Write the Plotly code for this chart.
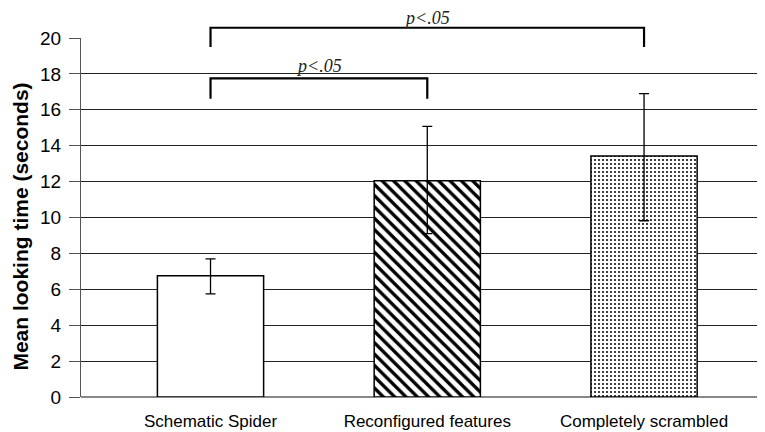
import plotly.graph_objects as go

categories = ["Schematic Spider", "Reconfigured features", "Completely scrambled"]
means = [6.75, 12.05, 13.43]
err_plus = [0.95, 3.03, 3.47]
err_minus = [1.0, 2.95, 3.61]
y_ticks = [0, 2, 4, 6, 8, 10, 12, 14, 16, 18, 20]

# significance brackets: (left index, right index, bar height, leg bottom, label height, label)
brackets = [
    (0, 2, 20.57, 19.5, 21.12, "p<.05"),
    (0, 1, 17.75, 16.62, 18.45, "p<.05"),
]

patterns = [
    dict(shape=""),
    dict(shape="\\", size=8, solidity=0.42, fgcolor="black", bgcolor="white", fillmode="replace"),
    dict(shape=".", size=4, solidity=0.2, fgcolor="black", bgcolor="white", fillmode="replace"),
]

fig = go.Figure()
for i, (c, m) in enumerate(zip(categories, means)):
    fig.add_trace(go.Bar(
        x=[i], y=[m], width=0.49,
        marker=dict(color="white", line=dict(color="black", width=1.5), pattern=patterns[i]),
        error_y=dict(type="data", symmetric=False, array=[err_plus[i]], arrayminus=[err_minus[i]],
                     color="black", thickness=1.3, width=5),
        showlegend=False,
    ))

YMAX = 20.0
for (a, b, top, leg, ly, txt) in brackets:
    fig.add_shape(type="path",
                  path=f"M {a},{leg/YMAX} L {a},{top/YMAX} L {b},{top/YMAX} L {b},{leg/YMAX}",
                  xref="x", yref="paper", line=dict(color="black", width=2.2))
    fig.add_annotation(x=(a + b) / 2, y=ly / YMAX, xref="x", yref="paper", text=f"<i>{txt}</i>",
                       showarrow=False, borderpad=0,
                       font=dict(family="Liberation Serif", size=18, color="#222"),
                       yanchor="middle")

# y-axis title as rotated annotation
fig.add_annotation(x=-0.089, y=0.475, xref="paper", yref="paper",
                   text="<b>Mean looking time (seconds)</b>", textangle=-90, showarrow=False,
                   font=dict(family="Liberation Sans", size=21, color="black"),
                   xanchor="center", yanchor="middle")

fig.update_layout(
    width=757, height=424,
    margin=dict(l=73, r=0, t=30, b=35),
    paper_bgcolor="white", plot_bgcolor="white",
    font=dict(family="Liberation Sans", color="black"),
)
fig.update_xaxes(
    range=[-0.5975, 2.558], tickvals=[0, 1, 2], ticktext=categories,
    showgrid=False, zeroline=False, showline=False, ticks="",
    tickfont=dict(size=17, color="black"), ticklabelstandoff=12, automargin=False,
)
fig.update_yaxes(
    range=[0, YMAX], tickvals=y_ticks, ticktext=[str(t) for t in y_ticks],
    showgrid=True, gridcolor="#222", gridwidth=1,
    zeroline=True, zerolinecolor="#888", zerolinewidth=2,
    showline=True, linecolor="#555", linewidth=1,
    ticks="outside", ticklen=11, tickcolor="#555",
    tickfont=dict(size=19, color="black"), ticklabelstandoff=4, automargin=False,
)

fig.write_html("out.html")
